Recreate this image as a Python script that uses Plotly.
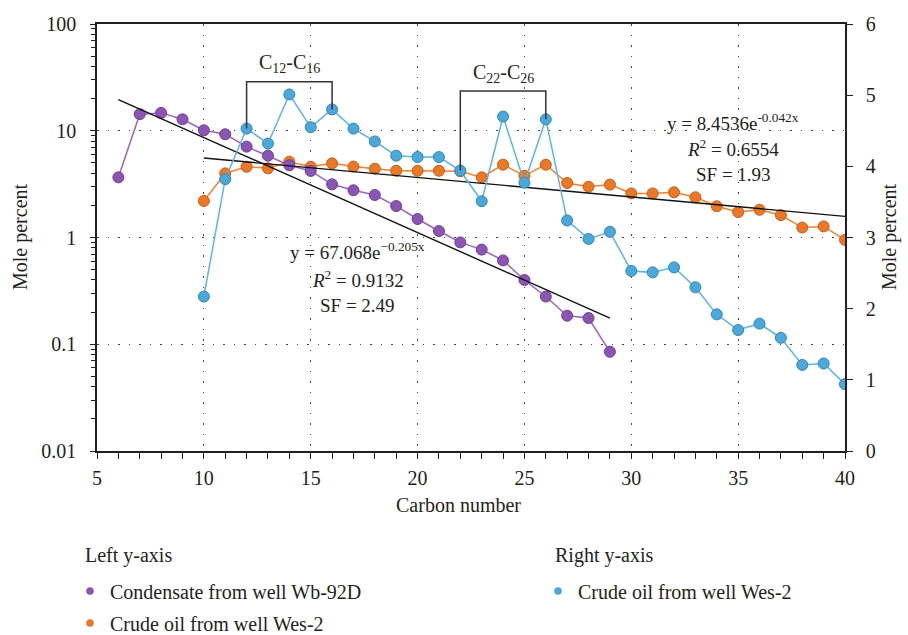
import numpy as np
import plotly.graph_objects as go

# Carbon numbers
c_condensate = list(range(6, 30))
c_crude = list(range(10, 41))

# Mole percent, condensate from well Wb-92D (left, log axis)
condensate = [3.66, 14.3, 14.7, 12.8, 10.1, 9.27, 7.1, 5.84, 4.75, 4.2, 3.15, 2.77,
              2.5, 1.97, 1.49, 1.15, 0.90, 0.77, 0.61, 0.40, 0.28, 0.185, 0.176, 0.085]
# Mole percent, crude oil from well Wes-2 (left, log axis)
crude_left = [2.2, 3.99, 4.6, 4.45, 5.13, 4.6, 4.95, 4.62, 4.41, 4.22, 4.22, 4.22,
              4.17, 3.66, 4.81, 3.79, 4.81, 3.24, 2.99, 3.13, 2.59, 2.59, 2.65, 2.38,
              1.96, 1.73, 1.82, 1.62, 1.24, 1.27, 0.95]
# Mole percent, crude oil from well Wes-2 (right, linear axis)
crude_right = [2.17, 3.82, 4.53, 4.32, 5.01, 4.55, 4.80, 4.53, 4.35, 4.15, 4.13, 4.13,
               3.94, 3.51, 4.70, 3.77, 4.66, 3.24, 2.98, 3.08, 2.53, 2.51, 2.58, 2.30,
               1.92, 1.70, 1.79, 1.59, 1.21, 1.23, 0.94]

# Exponential fits y = a * exp(b * x)
fit_cond = dict(a=67.068, b=-0.205, r2=0.9132, sf=2.49, x0=6, x1=29)
fit_crude = dict(a=8.4536, b=-0.042, r2=0.6554, sf=1.93, x0=10, x1=40)

left_ticks = [0.01, 0.1, 1, 10, 100]
left_ticktext = ["0.01", "0.1", "1", "10", "100"]

W, H = 908, 635
L, R, T, B = 97, 63, 24, 184
PURPLE, PURPLE_LINE, PURPLE_EDGE = "#8b55b3", "#9a63c2", "#6e3f93"
ORANGE, ORANGE_LINE, ORANGE_EDGE = "#eb7826", "#f0802e", "#c45f16"
BLUE, BLUE_LINE, BLUE_EDGE = "#4ba8d8", "#5ab5e4", "#3086b5"
FONT = "Liberation Serif"
INK = "#231f20"


def px_to_paper(px, py):
    return (px - L) / (W - L - R), (H - B - py) / (H - T - B)


fig = go.Figure()


def series(x, y, fill, line, edge, yaxis):
    fig.add_trace(go.Scatter(
        x=x, y=y, mode="lines+markers", yaxis=yaxis, showlegend=False,
        line=dict(color=line, width=1.5),
        marker=dict(size=11, color=fill, line=dict(color=edge, width=1)),
        hoverinfo="skip"))


series(c_crude, crude_right, BLUE, BLUE_LINE, BLUE_EDGE, "y2")
series(c_crude, crude_left, ORANGE, ORANGE_LINE, ORANGE_EDGE, "y")
series(c_condensate, condensate, PURPLE, PURPLE_LINE, PURPLE_EDGE, "y")

# Fitted trend lines
for f in (fit_cond, fit_crude):
    xs = np.linspace(f["x0"], f["x1"], 50)
    fig.add_trace(go.Scatter(x=xs, y=f["a"] * np.exp(f["b"] * xs), mode="lines",
                             yaxis="y", showlegend=False, hoverinfo="skip",
                             line=dict(color="#111111", width=1.4)))

# Legend entries
for name, col, edge, leg in [("Condensate from well Wb-92D", PURPLE, PURPLE_EDGE, "legend"),
                             ("Crude oil from well Wes-2", ORANGE, ORANGE_EDGE, "legend3"),
                             ("Crude oil from well Wes-2", BLUE, BLUE_EDGE, "legend2")]:
    fig.add_trace(go.Scatter(x=[None], y=[None], mode="markers", name=name, legend=leg,
                             marker=dict(size=7, color=col, line=dict(color=edge, width=0.5))))

# Brackets marking C12-C16 and C22-C26
blue_at = dict(zip(c_crude, crude_right))
for (c0, c1, top) in [(12, 16, 5.19), (22, 26, 5.06)]:
    fig.add_shape(type="path", xref="x", yref="y2",
                  path=f"M {c0},{blue_at[c0]} L {c0},{top} L {c1},{top} L {c1},{blue_at[c1]}",
                  line=dict(color="#333333", width=1.5))

ann_font = dict(family=FONT, size=19, color=INK)
annotations = [
    dict(x=14, y=5.44, text="C<sub>12</sub>-C<sub>16</sub>", font=dict(family=FONT, size=20, color=INK)),
    dict(x=24, y=5.31, text="C<sub>22</sub>-C<sub>26</sub>", font=dict(family=FONT, size=20, color=INK)),
    dict(x=17.21, y=2.81, text=f"y = {fit_cond['a']:.3f}e<sup>\u2212{-fit_cond['b']:.3f}x</sup>"),
    dict(x=17.21, y=2.42, text=f"<i>R</i><sup>2</sup> = {fit_cond['r2']:.4f}"),
    dict(x=17.21, y=2.05, text=f"SF = {fit_cond['sf']:.2f}"),
    dict(x=34.76, y=4.62, text=f"y = {fit_crude['a']:.4f}e<sup>-{-fit_crude['b']:.3f}x</sup>"),
    dict(x=34.76, y=4.26, text=f"<i>R</i><sup>2</sup> = {fit_crude['r2']:.4f}"),
    dict(x=34.76, y=3.89, text=f"SF = {fit_crude['sf']:.2f}"),
]
for a in annotations:
    a.setdefault("font", ann_font)
    a.update(xref="x", yref="y2", showarrow=False, xanchor="center", yanchor="middle")

# Axis titles and legend group headers, placed in pixel terms
for text, px, py, angle, anchor in [
        ("Mole percent", 20, 237, -90, "center"),
        ("Mole percent", 889, 237, -90, "center"),
        ("Carbon number", 458, 505, 0, "center"),
        ("Left y-axis", 83, 555, 0, "left"),
        ("Right y-axis", 553, 555, 0, "left")]:
    xp, yp = px_to_paper(px, py)
    annotations.append(dict(x=xp, y=yp, xref="paper", yref="paper", text=text,
                            textangle=angle, xanchor=anchor, yanchor="middle",
                            showarrow=False, font=dict(family=FONT, size=20, color=INK)))

leg_common = dict(xref="container", yref="container", xanchor="left", yanchor="middle",
                  bgcolor="rgba(0,0,0,0)", font=dict(family=FONT, size=20, color=INK),
                  itemsizing="trace")

minor_log = [m * 10.0 ** e for e in range(-2, 2) for m in range(2, 10)]

fig.update_layout(
    width=W, height=H,
    margin=dict(l=L, r=R, t=T, b=B, autoexpand=False),
    paper_bgcolor="white", plot_bgcolor="white",
    font=dict(family=FONT, size=20, color=INK),
    annotations=annotations,
    legend=dict(x=70 / W, y=(H - 591) / H, **leg_common),
    legend3=dict(x=70 / W, y=(H - 623) / H, **leg_common),
    legend2=dict(x=538 / W, y=(H - 591) / H, **leg_common),
    xaxis=dict(
        range=[5, 40], dtick=5, tick0=5, ticks="outside", ticklen=6, tickwidth=1.2,
        tickcolor=INK, showline=True, linecolor=INK, linewidth=1.5, mirror=True,
        showgrid=True, gridcolor="#444444", gridwidth=1.2, griddash="1.5px,9px",
        zeroline=False, tickfont=dict(family=FONT, size=20, color=INK),
        ticklabelstandoff=2,
        minor=dict(dtick=1, ticks="outside", ticklen=6, tickwidth=1.2, tickcolor=INK,
                   showgrid=False),
    ),
    yaxis=dict(
        type="log", range=[-2, 2], tickvals=left_ticks, ticktext=left_ticktext,
        ticks="outside", ticklen=5, tickwidth=1.2, tickcolor=INK,
        showline=True, linecolor=INK, linewidth=1.5,
        showgrid=True, gridcolor="#444444", gridwidth=1.2, griddash="1.5px,9px",
        zeroline=False, tickfont=dict(family=FONT, size=20, color=INK),
        ticklabelstandoff=10,
        minor=dict(tickvals=minor_log, ticks="outside", ticklen=4, tickwidth=1,
                   tickcolor=INK, showgrid=False),
    ),
    yaxis2=dict(
        overlaying="y", side="right", range=[0, 6], dtick=1, tick0=0,
        ticks="outside", ticklen=6, tickwidth=1.2, tickcolor=INK,
        showline=True, linecolor=INK, linewidth=1.5, showgrid=False, zeroline=False,
        tickfont=dict(family=FONT, size=20, color=INK), ticklabelstandoff=9,
    ),
)

fig.write_html("out.html")
